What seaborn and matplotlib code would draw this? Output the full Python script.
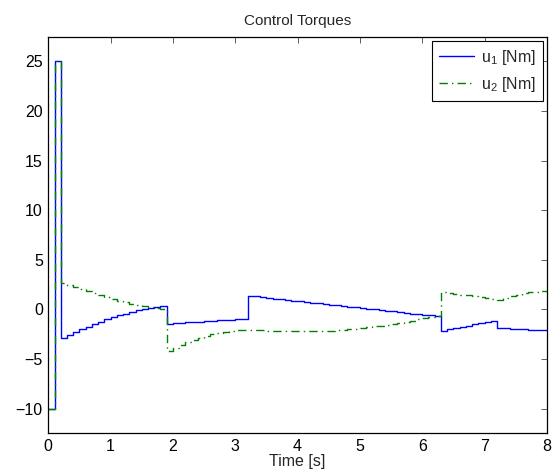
import numpy as np
import pandas as pd
import matplotlib
matplotlib.use("Agg")
import matplotlib.pyplot as plt
import seaborn as sns

# sample times (zero-order hold, 0.1 s)
time_s = [round(0.1 * i, 1) for i in range(81)]

u1_values = [
    -10.0, 25.0,
    -2.86, -2.59, -2.32, -2.02, -1.75, -1.48, -1.25, -1.01, -0.81, -0.60,
    -0.44, -0.24, -0.07, 0.06, 0.16, 0.26, 0.33,
    -1.42, -1.38, -1.34, -1.30, -1.27, -1.23, -1.19, -1.15, -1.11, -1.07,
    -1.03, -0.99, -0.95,
    1.38, 1.31, 1.24, 1.17, 1.10, 1.04, 0.97, 0.90, 0.83, 0.76, 0.69, 0.62,
    0.56, 0.49, 0.42, 0.35, 0.28, 0.21, 0.14, 0.08, 0.01, -0.06, -0.13,
    -0.20, -0.27, -0.34, -0.41, -0.48, -0.54, -0.61, -0.68,
    -2.15, -2.00, -1.86, -1.74, -1.62, -1.50, -1.40, -1.30, -1.18,
    -1.85, -1.89, -1.93, -1.97, -2.01, -2.04, -2.08, -2.11,
    -2.14,
]

u2_values = [
    -10.0, 25.0,
    2.62, 2.42, 2.24, 2.03, 1.83, 1.63, 1.43, 1.24, 1.06, 0.90, 0.73, 0.58,
    0.45, 0.33, 0.22, 0.13, 0.05,
    -4.20, -3.90, -3.60, -3.30, -3.05, -2.85, -2.65, -2.48, -2.35, -2.25,
    -2.17, -2.12, -2.09,
    -2.08, -2.09, -2.11, -2.13, -2.15, -2.17, -2.19, -2.20, -2.21, -2.22,
    -2.22, -2.21, -2.19, -2.16, -2.12, -2.07, -2.01, -1.95, -1.88, -1.80,
    -1.71, -1.62, -1.52, -1.42, -1.32, -1.22, -1.12, -1.01, -0.90, -0.79,
    -0.68,
    1.78, 1.70, 1.60, 1.50, 1.42, 1.34, 1.25, 1.16, 1.06,
    0.96, 1.15, 1.35, 1.50, 1.62, 1.72, 1.80, 1.86,
    1.90,
]

series_labels = [r"u$_\mathrm{1}$ [Nm]", r"u$_\mathrm{2}$ [Nm]"]
x_ticks = [0, 1, 2, 3, 4, 5, 6, 7, 8]
y_ticks = [-10, -5, 0, 5, 10, 15, 20, 25]

sns.set_style("white")
plt.rcParams["font.family"] = ["Liberation Sans", "DejaVu Sans"]
plt.rcParams["mathtext.fontset"] = "custom"
plt.rcParams["mathtext.rm"] = "Liberation Sans"
plt.rcParams["mathtext.it"] = "Liberation Sans:italic"

df1 = pd.DataFrame({"t": time_s, "u": u1_values})
df2 = pd.DataFrame({"t": time_s, "u": u2_values})

fig = plt.figure(figsize=(5.54, 4.72), dpi=100)
ax = fig.add_axes([0.0872, 0.0816, 0.900, 0.841])

sns.lineplot(data=df1, x="t", y="u", ax=ax, color=(0, 0, 1), lw=1.0,
             drawstyle="steps-post", estimator=None, sort=False,
             label=series_labels[0])
sns.lineplot(data=df2, x="t", y="u", ax=ax, color=(0, 0.5, 0), lw=1.0,
             drawstyle="steps-post", estimator=None, sort=False,
             dashes=False, label=series_labels[1])
ax.lines[1].set_dashes((6, 3, 1, 3))

ax.set_xlim(0, 8)
ax.set_ylim(-12.5, 27.5)
ax.set_xticks(x_ticks)
ax.set_yticks(y_ticks)
ax.set_yticklabels([("\u2212" + str(-v)) if v < 0 else str(v) for v in y_ticks])
ax.tick_params(direction="in", length=4, width=0.6, colors="#444444",
               labelcolor="black", labelsize=11.5, top=True, right=True,
               pad=4)
for sp in ax.spines.values():
    sp.set_color("black")
    sp.set_linewidth(0.9)

ax.set_title("Control Torques", fontsize=11, pad=8)
ax.set_xlabel("Time [s]", fontsize=11.5, labelpad=0)
ax.set_ylabel("")

leg = ax.legend(loc="upper right", fontsize=11.5, frameon=True, fancybox=False,
                edgecolor="black", framealpha=1, handlelength=2.2,
                borderaxespad=0.25, borderpad=0.45, labelspacing=0.5,
                handletextpad=0.4)
leg.get_frame().set_linewidth(0.8)

fig.savefig("out.png", dpi=100)
